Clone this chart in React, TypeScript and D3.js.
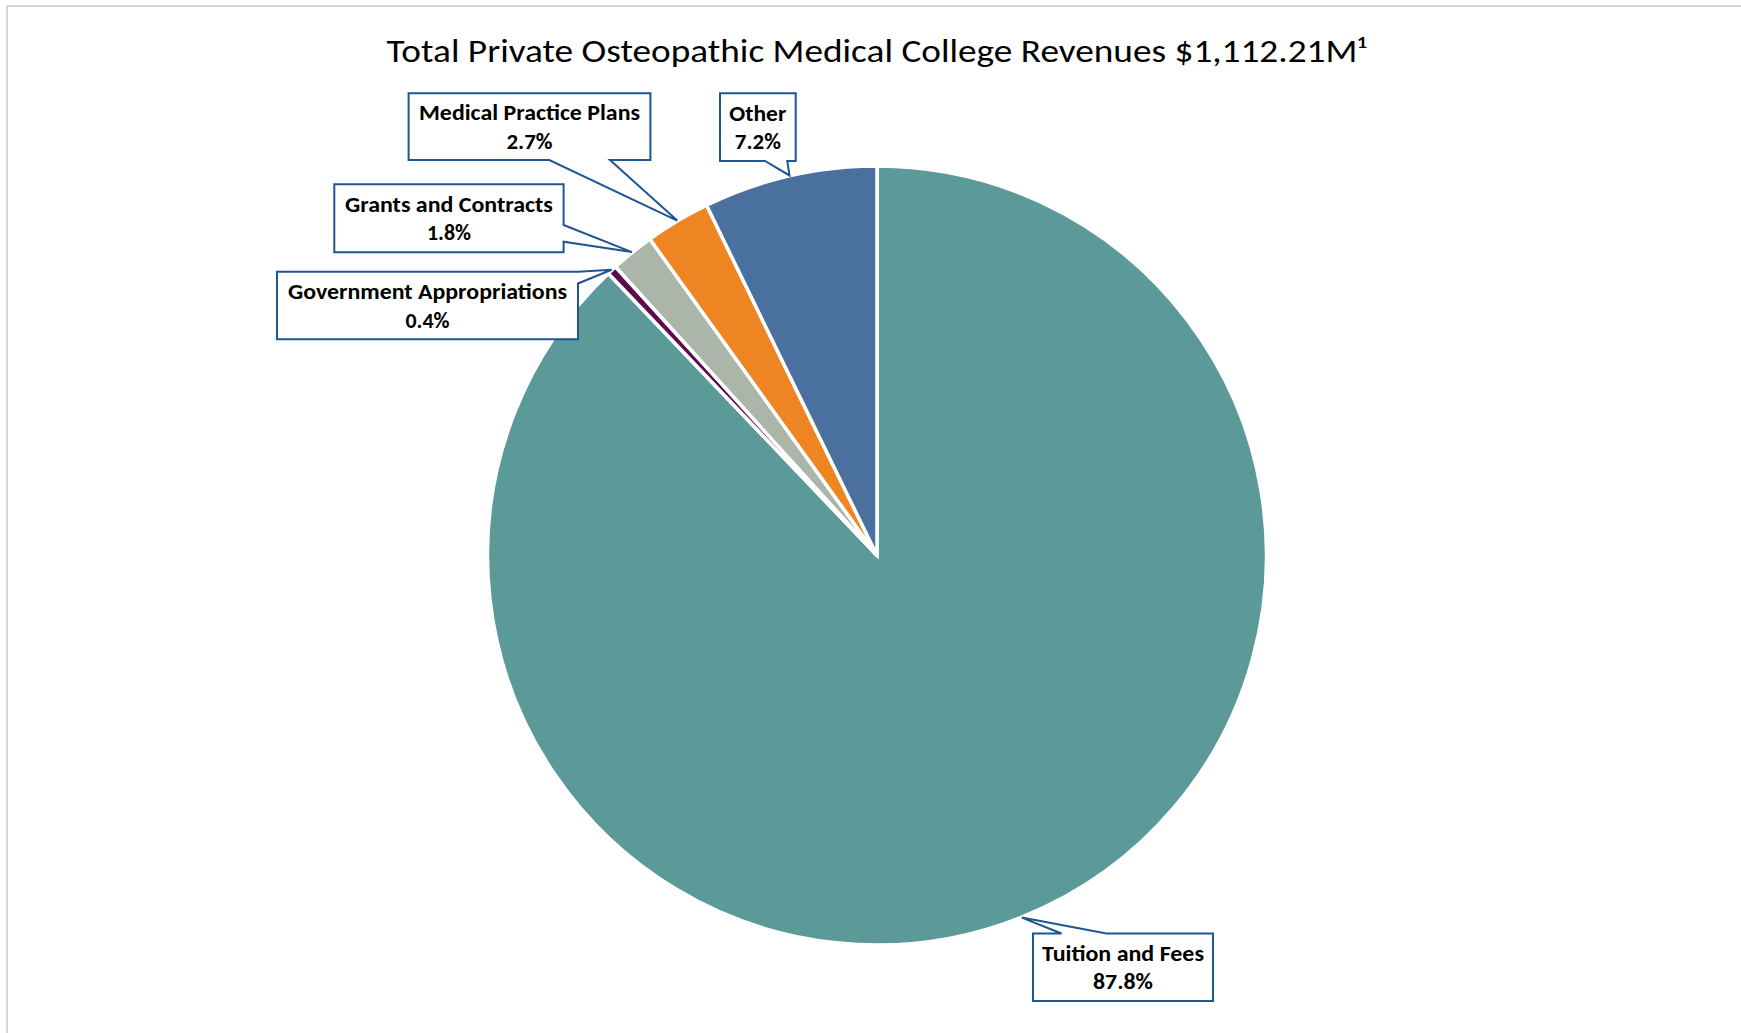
import React from "react";
import * as d3 from "d3";

const W = 1741;
const H = 1033;

const categories = ["Tuition and Fees", "Government Appropriations", "Grants and Contracts", "Medical Practice Plans", "Other"];
const shares = [87.8, 0.4, 1.8, 2.7, 7.2];
const labelsPct = ["87.8%", "0.4%", "1.8%", "2.7%", "7.2%"];
const colors = ["#5B9A98", "#5C0B4F", "#ABB5A9", "#EE8422", "#4A70A0"];

const titleText = "Total Private Osteopathic Medical College Revenues $1,112.21M\u00B9";

type Box = {
  x0: number; y0: number; x1: number; y1: number;
  edge: "bottom" | "right" | "top" | "rightTop";
  b0: number; b1: number;
  w1: number; w2: number;
};
const boxes: Box[] = [
  { x0: 1033, y0: 933.5, x1: 1213, y1: 1001, edge: "top", b0: 1061.5, b1: 1106.5, w1: 162, w2: 60 },
  { x0: 277, y0: 271.7, x1: 578, y1: 339.3, edge: "rightTop", b0: 271.7, b1: 283.5, w1: 279, w2: 44 },
  { x0: 334.3, y0: 184.3, x1: 563.6, y1: 252.3, edge: "right", b0: 225, b1: 241.7, w1: 208, w2: 44 },
  { x0: 408.6, y0: 93.3, x1: 650.4, y1: 160, edge: "bottom", b0: 549.3, b1: 610, w1: 221, w2: 46 },
  { x0: 720, y0: 93.3, x1: 795.7, y1: 161, edge: "bottom", b0: 765, b1: 787.3, w1: 57, w2: 46 },
];

export default function App() {
  const cx = 877;
  const cy = 555.5;
  const r = 389.5;

  const pie = d3.pie<number>().sort(null).value((d) => d).startAngle(0).endAngle(2 * Math.PI);
  const arcs = pie(shares);
  const arc = d3.arc<d3.PieArcDatum<number>>().innerRadius(0).outerRadius(r);

  const tipOf = (a: d3.PieArcDatum<number>) => {
    const m = (a.startAngle + a.endAngle) / 2;
    return [cx + Math.sin(m) * (r + 0.5), cy - Math.cos(m) * (r + 0.5)];
  };

  const calloutPath = (b: Box, tip: number[]) => {
    const [tx, ty] = tip;
    let pts: number[][] = [];
    if (b.edge === "bottom") {
      pts = [[b.x0, b.y0], [b.x1, b.y0], [b.x1, b.y1], [b.b1, b.y1], [tx, ty], [b.b0, b.y1], [b.x0, b.y1]];
    } else if (b.edge === "top") {
      pts = [[b.x0, b.y0], [b.b0, b.y0], [tx, ty], [b.b1, b.y0], [b.x1, b.y0], [b.x1, b.y1], [b.x0, b.y1]];
    } else if (b.edge === "right") {
      pts = [[b.x0, b.y0], [b.x1, b.y0], [b.x1, b.b0], [tx, ty], [b.x1, b.b1], [b.x1, b.y1], [b.x0, b.y1]];
    } else {
      pts = [[b.x0, b.y0], [b.x1, b.y0], [tx, ty], [b.x1, b.b1], [b.x1, b.y1], [b.x0, b.y1]];
    }
    return "M" + pts.map((p) => p.join(",")).join("L") + "Z";
  };

  const font = "Calibri, Carlito, 'Liberation Sans', Arial, sans-serif";

  return (
    <svg width={W} height={H} style={{ position: "absolute", left: 0, top: 0, background: "#fff" }}>
      <rect x={7} y={6} width={W + 20} height={H + 20} fill="#fff" stroke="#d9d9d9" strokeWidth={2} />
      <text
        x={876.5}
        y={61.7}
        textAnchor="middle"
        fontFamily={font}
        fontSize={32.5}
        fill="#000"
        textLength={980}
        lengthAdjust="spacingAndGlyphs"
      >
        {titleText}
      </text>
      <g transform={`translate(${cx},${cy})`}>
        {arcs.map((a, i) => (
          <path key={categories[i]} d={arc(a) || ""} fill={colors[i]} stroke="#fff" strokeWidth={3.5} strokeLinejoin="miter" />
        ))}
      </g>
      {arcs.map((a, i) => {
        const b = boxes[i];
        const tip = tipOf(a);
        const mx = (b.x0 + b.x1) / 2;
        const my = (b.y0 + b.y1) / 2;
        return (
          <g key={"lbl" + i}>
            <path d={calloutPath(b, tip)} fill="#fff" stroke="#1F5591" strokeWidth={2} strokeLinejoin="miter" />
            <text
              x={mx}
              y={my - 6.3}
              textAnchor="middle"
              fontFamily={font}
              fontWeight="bold"
              fontSize={21.5}
              fill="#000"
              textLength={b.w1}
              lengthAdjust="spacingAndGlyphs"
            >
              {categories[i]}
            </text>
            <text
              x={mx}
              y={my + 22}
              textAnchor="middle"
              fontFamily={font}
              fontWeight="bold"
              fontSize={21.5}
              fill="#000"
              textLength={b.w2}
              lengthAdjust="spacingAndGlyphs"
            >
              {labelsPct[i]}
            </text>
          </g>
        );
      })}
    </svg>
  );
}
